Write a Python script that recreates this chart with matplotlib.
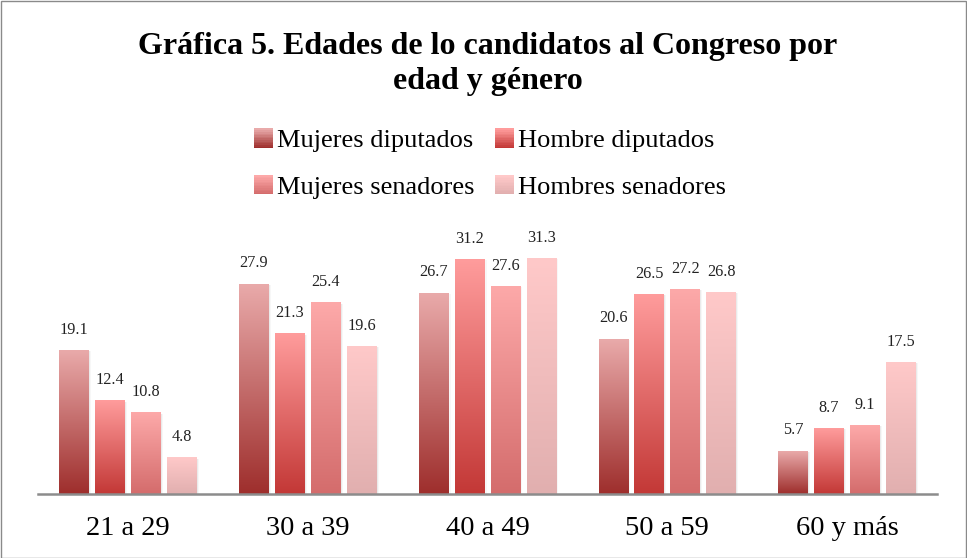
import numpy as np
import matplotlib
matplotlib.use("Agg")
import matplotlib.pyplot as plt
from matplotlib.patches import Rectangle
from matplotlib.legend_handler import HandlerBase
from matplotlib.colors import LinearSegmentedColormap, to_rgb

categories = ["21 a 29", "30 a 39", "40 a 49", "50 a 59", "60 y más"]
series_names = ["Mujeres diputados", "Hombre diputados", "Mujeres senadores", "Hombres senadores"]
mujeres_diputados = [19.1, 27.9, 26.7, 20.6, 5.7]
hombre_diputados = [12.4, 21.3, 31.2, 26.5, 8.7]
mujeres_senadores = [10.8, 25.4, 27.6, 27.2, 9.1]
hombres_senadores = [4.8, 19.6, 31.3, 26.8, 17.5]
series_values = [mujeres_diputados, hombre_diputados, mujeres_senadores, hombres_senadores]
title = "Gráfica 5. Edades de lo candidatos al Congreso por\nedad y género"

# gradient colours: (top, bottom)
grads = [("#E9AAAA", "#9E2E2C"),
         ("#FF9C9C", "#C33836"),
         ("#FDA9A9", "#D46C6C"),
         ("#FFC9C9", "#E1AFAF")]

plt.rcParams['font.family'] = ['Liberation Serif', 'DejaVu Serif']

W, H = 967, 558
fig = plt.figure(figsize=(W / 100, H / 100), dpi=100)
ax = fig.add_axes([38 / W, (H - 494) / H, (937 - 38) / W, (494 - 214) / H])

x = np.arange(len(categories))
bw = 0.165
offsets = [-0.3, -0.1, 0.1, 0.3]
for si, (vals, (ctop, cbot)) in enumerate(zip(series_values, grads)):
    cmap = LinearSegmentedColormap.from_list(f"g{si}", [cbot, ctop])
    bars = ax.bar(x + offsets[si], vals, width=bw, color="none", edgecolor="none", zorder=2)
    for b, v in zip(bars, vals):
        x0 = b.get_x()
        # soft shadow
        for k, a in [(0.006, 0.05), (0.012, 0.03)]:
            ax.add_patch(Rectangle((x0 + k, 0), bw, v - 0.1, facecolor="#000000", alpha=a,
                                   edgecolor="none", zorder=1.5))
        grad = np.linspace(0, 1, 256).reshape(-1, 1)
        ax.imshow(grad, cmap=cmap, origin="lower", aspect="auto",
                  extent=(x0, x0 + bw, 0, v), zorder=2, interpolation="bilinear")
        ax.text(x0 + bw / 2, v + 1.7, f"{v:.1f}", ha="center", va="bottom",
                fontsize=11.7, color="#222222", zorder=3)

ax.set_xlim(-0.5, 4.5)
ax.set_ylim(0, (494 - 214) / 7.52)
ax.set_xticks(x)
ax.set_xticklabels(categories, fontsize=20.5)
ax.tick_params(axis="x", length=0, pad=16)
ax.set_yticks([])
for s in ["top", "right", "left"]:
    ax.spines[s].set_visible(False)
ax.spines["bottom"].set_color("#8c8c8c")
ax.spines["bottom"].set_linewidth(1.8)
ax.patch.set_alpha(0)


class GradHandler(HandlerBase):
    def __init__(self, ctop, cbot):
        super().__init__()
        self.ctop = np.array(to_rgb(ctop))
        self.cbot = np.array(to_rgb(cbot))

    def create_artists(self, legend, orig_handle, xdescent, ydescent, width, height, fontsize, trans):
        arts = []
        n = 12
        side = min(width, height * 1.0)
        x0 = -xdescent + width - side
        y0 = -ydescent - 0.02 * height
        for i in range(n):
            t = i / (n - 1)
            c = self.cbot * (1 - t) + self.ctop * t
            r = Rectangle((x0, y0 + side * i / n), side, side / n + 0.3, facecolor=c,
                          edgecolor="none", transform=trans)
            arts.append(r)
        return arts


handles = [Rectangle((0, 0), 1, 1) for _ in series_names]
hmap = {h: GradHandler(*g) for h, g in zip(handles, grads)}
order = [0, 2, 1, 3]
leg = fig.legend([handles[i] for i in order], [series_names[i] for i in order],
                 handler_map=hmap, ncol=2, loc="center", bbox_to_anchor=(490 / W, 1 - 163.5 / H),
                 frameon=False, fontsize=19, handlelength=0.75, handleheight=0.75,
                 handletextpad=0.15, columnspacing=0.75, labelspacing=0.85)

fig.text(488 / W, 1 - 64 / H, title, ha="center", va="center", fontsize=23,
         fontweight="bold", linespacing=1.3)

fig.add_artist(Rectangle((0.5 / W, 0.5 / H), (W - 1.5) / W, (H - 1.5) / H,
                         transform=fig.transFigure, fill=False, edgecolor="#8a8a8a", linewidth=1))

fig.savefig("out.png", dpi=100)
